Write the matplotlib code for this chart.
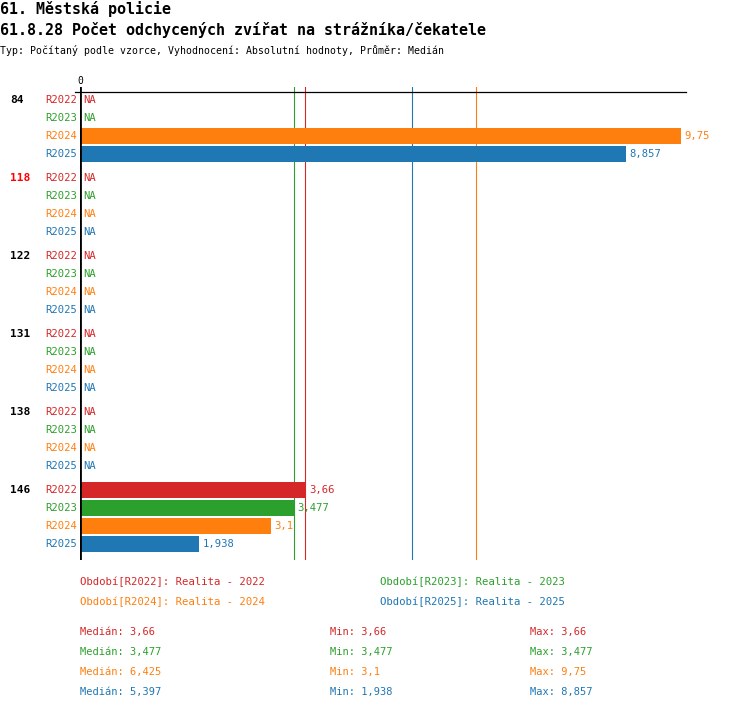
import numpy as np
import matplotlib
matplotlib.use("Agg")
import matplotlib.pyplot as plt

groups = ["84", "118", "122", "131", "138", "146"]
series = ["R2022", "R2023", "R2024", "R2025"]
legend_names = ["Realita - 2022", "Realita - 2023", "Realita - 2024", "Realita - 2025"]
colors = ["#d62728", "#2ca02c", "#ff7f0e", "#1f77b4"]
nan = np.nan
values = {
    "R2022": [nan, nan, nan, nan, nan, 3.66],
    "R2023": [nan, nan, nan, nan, nan, 3.477],
    "R2024": [9.75, nan, nan, nan, nan, 3.1],
    "R2025": [8.857, nan, nan, nan, nan, 1.938],
}
highlight = "118"

W, H = 750, 710
FONT = ["DejaVu Sans Mono"]


def fmt(v):
    t = int(v * 1000 + 1e-6) / 1000
    s = f"{t:.3f}".rstrip("0").rstrip(".")
    return s.replace(".", ",")


def px(x, y):
    return x / W, 1 - y / H


fig = plt.figure(figsize=(W / 100, H / 100), dpi=100)
fig.patch.set_facecolor("white")

# titles
fig.text(*px(0, 9), "61. Městská policie", family=FONT, fontsize=10.8,
         fontweight="bold", va="center")
fig.text(*px(0, 30), "61.8.28 Počet odchycených zvířat na strážníka/čekatele",
         family=FONT, fontsize=10.8, fontweight="bold", va="center")
fig.text(*px(0, 50), "Typ: Počítaný podle vzorce, Vyhodnocení: Absolutní hodnoty, Průměr: Medián",
         family=FONT, fontsize=7.1, va="center")

# plot area
x0, x1, ytop, ybot = 80, 686, 87, 560
scale = 61.6
ax = fig.add_axes([x0 / W, 1 - ybot / H, (x1 - x0) / W, (ybot - ytop) / H])
ax.set_xlim(0, (x1 - x0) / scale)
ax.set_ylim(ybot, ytop)
ax.axis("off")

row_h, grp_h, first = 18, 78, 100
for g, grp in enumerate(groups):
    gy = first + g * grp_h
    gcol = "#ff0000" if grp == highlight else "black"
    ax.annotate(grp, (0, gy), xycoords=("axes fraction", "data"),
                xytext=(-70 * 0.72, 0), textcoords="offset points",
                family=FONT, fontsize=8, fontweight="bold", color=gcol,
                va="center", ha="left")
    for k, s in enumerate(series):
        y = gy + k * row_h
        v = values[s][g]
        ax.annotate(s, (0, y), xytext=(-2.2, 0), textcoords="offset points",
                    family=FONT, fontsize=7.6, color=colors[k], va="center", ha="right")
        if np.isnan(v):
            ax.annotate("NA", (0, y), xytext=(2.5, 0), textcoords="offset points",
                        family=FONT, fontsize=7.6, color=colors[k], va="center", ha="left")
        else:
            ax.barh(y, v, height=16, color=colors[k], zorder=2)
            ax.annotate(fmt(v), (v, y), xytext=(2.5, 0), textcoords="offset points",
                        family=FONT, fontsize=7.6, color=colors[k], va="center", ha="left")

# median lines
medians = [np.nanmedian(values[s]) for s in series]
for k, m in enumerate(medians):
    ax.axvline(m, color=colors[k], lw=0.8, zorder=1)

# axes lines
ax.axvline(0, color="black", lw=2.0, zorder=3)
ax.plot([-5 / scale, (x1 - x0) / scale], [92, 92], color="black", lw=0.9,
        clip_on=False, zorder=3)
fig.text(*px(80, 81), "0", family=FONT, fontsize=7, ha="center", va="center")

# legend
for k, s in enumerate(series):
    lx = 80 if k % 2 == 0 else 380
    ly = 582 if k < 2 else 602
    fig.text(*px(lx, ly), f"Období[{s}]: {legend_names[k]}", family=FONT,
             fontsize=7.7, color=colors[k], va="center")

# stats
for k, s in enumerate(series):
    arr = np.array(values[s])
    sy = 632 + k * 20
    fig.text(*px(80, sy), f"Medián: {fmt(np.nanmedian(arr))}", family=FONT,
             fontsize=7.5, color=colors[k], va="center")
    fig.text(*px(330, sy), f"Min: {fmt(np.nanmin(arr))}", family=FONT,
             fontsize=7.5, color=colors[k], va="center")
    fig.text(*px(530, sy), f"Max: {fmt(np.nanmax(arr))}", family=FONT,
             fontsize=7.5, color=colors[k], va="center")

fig.savefig("out.png", dpi=100, facecolor="white")
